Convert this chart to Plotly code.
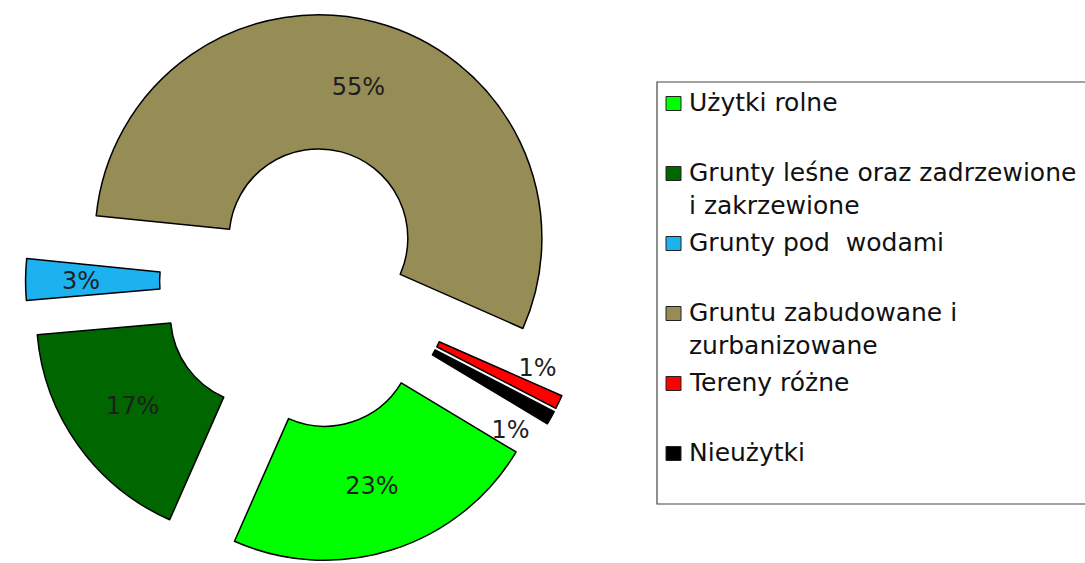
import plotly.graph_objects as go

# ---- data ----
categories = [
    "Użytki rolne",
    "Grunty leśne oraz zadrzewione<br>i zakrzewione",
    "Grunty pod  wodami",
    "Gruntu zabudowane i<br>zurbanizowane",
    "Tereny różne",
    "Nieużytki",
]
shares = [23, 17, 3, 55, 1, 1]
slice_labels = ["23%", "17%", "3%", "55%", "1%", "1%"]
colors = ["#00FF00", "#006600", "#1CB2F0", "#968C55", "#FF0000", "#000000"]

# ---- style ----
pulls = [0.26, 0.26, 0.26, 0.20, 0.25, 0.25]
NB = "\u00a0"
# whitespace padding that nudges the small-slice labels like in the original
pad_before = ["", "", NB * 5, "", "", NB + "<br>"]
pad_after = ["", "", "", "", NB * 4 + "<br>" + NB + "<br>" + NB, NB * 9]
texts = [b + t + a for b, t, a in zip(pad_before, slice_labels, pad_after)]

W, H = 1085, 563

fig = go.Figure()
fig.add_trace(go.Pie(
    labels=categories,
    values=shares,
    text=texts,
    textinfo="text",
    textposition="inside",
    insidetextorientation="horizontal",
    textfont=dict(family="DejaVu Sans", size=24, color="#1e1e1e"),
    marker=dict(colors=colors, line=dict(color="#000000", width=1.5)),
    hole=0.4,
    pull=pulls,
    sort=False,
    direction="clockwise",
    rotation=121,
    domain=dict(x=[0, 0.566], y=[0, 1]),
    showlegend=False,
    hovertemplate="%{label}: %{value}%<extra></extra>",
))

# ---- legend box built from the category list ----
def px(x):
    return x / W

def py(y):
    return 1 - y / H

shapes = [dict(type="rect", xref="paper", yref="paper",
               x0=px(657), x1=px(1100), y0=py(82), y1=py(504),
               line=dict(color="#444444", width=1.2), fillcolor="rgba(0,0,0,0)")]
annotations = []
for i, (cat, col) in enumerate(zip(categories, colors)):
    yc = 103.5 + 70 * i
    shapes.append(dict(type="rect", xref="paper", yref="paper",
                       x0=px(666), x1=px(681), y0=py(yc - 7), y1=py(yc + 7),
                       line=dict(color="#222222", width=1), fillcolor=col))
    annotations.append(dict(xref="paper", yref="paper", x=px(687), y=py(yc - 17.2),
                            xanchor="left", yanchor="top", align="left",
                            text=cat, showarrow=False,
                            font=dict(family="DejaVu Sans", size=25, color="#111111")))

fig.update_layout(
    width=W, height=H,
    margin=dict(l=0, r=0, t=0, b=0),
    paper_bgcolor="white", plot_bgcolor="white",
    uniformtext=dict(minsize=24, mode="show"),
    shapes=shapes, annotations=annotations,
)

fig.write_html("out.html", config={"displayModeBar": False},
               post_script="document.body.style.margin='0';document.body.style.overflow='hidden';")
